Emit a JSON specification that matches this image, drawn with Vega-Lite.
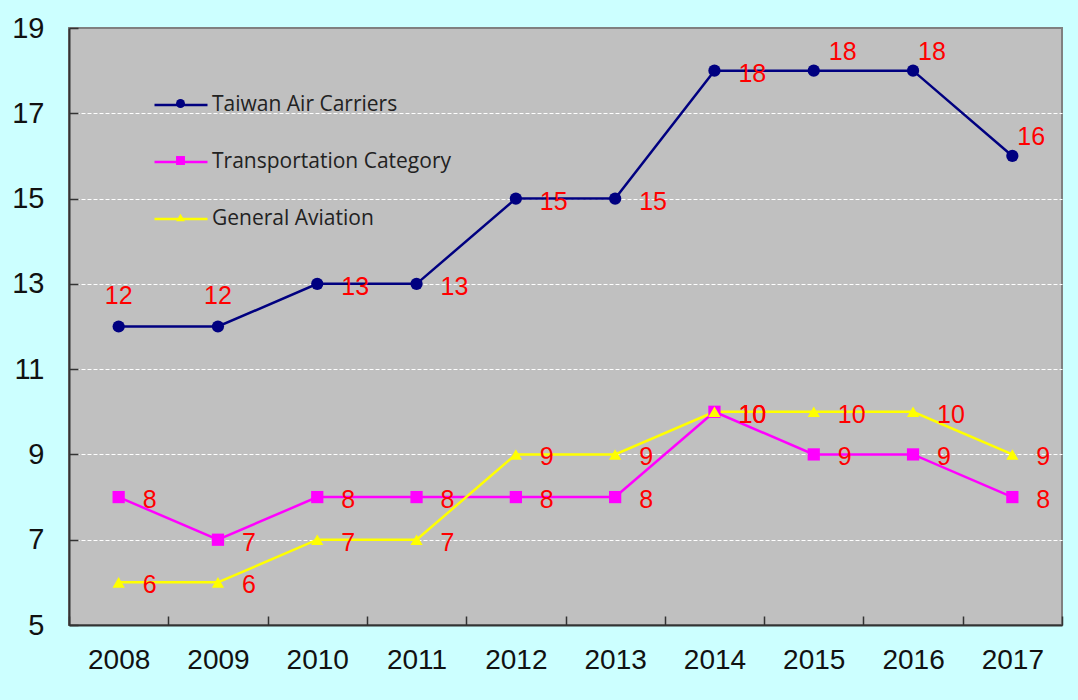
{
  "$schema": "https://vega.github.io/schema/vega-lite/v6.json",
  "autosize": {"type": "none"},
  "padding": {"left": 69, "top": 28, "right": 16, "bottom": 75},
  "width": 993,
  "height": 597,
  "background": "#CCFFFF",
  "config": {
    "view": {"fill": "#C0C0C0", "stroke": "#808080", "strokeWidth": 2},
    "font": "Liberation Sans"
  },
  "resolve": {"legend": {"color": "independent", "shape": "independent"}},
  "data": {
    "values": [
      {"year": "2008", "series": "Taiwan Air Carriers", "value": 12},
      {"year": "2009", "series": "Taiwan Air Carriers", "value": 12},
      {"year": "2010", "series": "Taiwan Air Carriers", "value": 13},
      {"year": "2011", "series": "Taiwan Air Carriers", "value": 13},
      {"year": "2012", "series": "Taiwan Air Carriers", "value": 15},
      {"year": "2013", "series": "Taiwan Air Carriers", "value": 15},
      {"year": "2014", "series": "Taiwan Air Carriers", "value": 18},
      {"year": "2015", "series": "Taiwan Air Carriers", "value": 18},
      {"year": "2016", "series": "Taiwan Air Carriers", "value": 18},
      {"year": "2017", "series": "Taiwan Air Carriers", "value": 16},
      {"year": "2008", "series": "Transportation Category", "value": 8},
      {"year": "2009", "series": "Transportation Category", "value": 7},
      {"year": "2010", "series": "Transportation Category", "value": 8},
      {"year": "2011", "series": "Transportation Category", "value": 8},
      {"year": "2012", "series": "Transportation Category", "value": 8},
      {"year": "2013", "series": "Transportation Category", "value": 8},
      {"year": "2014", "series": "Transportation Category", "value": 10},
      {"year": "2015", "series": "Transportation Category", "value": 9},
      {"year": "2016", "series": "Transportation Category", "value": 9},
      {"year": "2017", "series": "Transportation Category", "value": 8},
      {"year": "2008", "series": "General Aviation", "value": 6},
      {"year": "2009", "series": "General Aviation", "value": 6},
      {"year": "2010", "series": "General Aviation", "value": 7},
      {"year": "2011", "series": "General Aviation", "value": 7},
      {"year": "2012", "series": "General Aviation", "value": 9},
      {"year": "2013", "series": "General Aviation", "value": 9},
      {"year": "2014", "series": "General Aviation", "value": 10},
      {"year": "2015", "series": "General Aviation", "value": 10},
      {"year": "2016", "series": "General Aviation", "value": 10},
      {"year": "2017", "series": "General Aviation", "value": 9}
    ]
  },
  "encoding": {
    "x": {
      "field": "year", "type": "nominal", "bandPosition": 0.5,
      "scale": {"type": "band", "paddingInner": 0, "paddingOuter": 0},
      "axis": {
        "title": null, "labelAngle": 0, "tickBand": "extent",
        "domainColor": "#333333", "domainWidth": 2,
        "tickColor": "#333333", "tickWidth": 1.5, "tickSize": -9,
        "labelFontSize": 28, "labelColor": "#111111", "labelPadding": 30,
        "labelFont": "Liberation Sans"
      }
    },
    "y": {
      "field": "value", "type": "quantitative",
      "scale": {"domain": [5, 19], "nice": false, "zero": false},
      "axis": {
        "title": null, "values": [5, 7, 9, 11, 13, 15, 17, 19],
        "domainColor": "#333333", "domainWidth": 2,
        "tickColor": "#333333", "tickWidth": 1.5, "tickSize": -9,
        "labelFontSize": 29, "labelColor": "#111111", "labelPadding": 34,
        "labelFont": "Liberation Sans",
        "grid": true, "gridColor": "#FFFFFF", "gridDash": [4, 2], "gridWidth": 1,
        "gridOpacity": {"condition": {"test": "datum.value == 5 || datum.value == 19", "value": 0}, "value": 1}
      }
    }
  },
  "layer": [
    {
      "mark": {"type": "line", "strokeWidth": 2.5},
      "encoding": {
        "color": {
          "field": "series", "type": "nominal",
          "scale": {
            "domain": ["Taiwan Air Carriers", "Transportation Category", "General Aviation"],
            "range": ["#000080", "#FF00FF", "#FFFF00"]
          },
          "legend": {
            "title": null, "orient": "none", "legendX": 84, "legendY": 49,
            "padding": 0, "symbolSize": 2809, "symbolStrokeWidth": 2.5,
            "symbolType": "stroke",
            "rowPadding": 19, "labelOffset": 3,
            "labelFont": "Open Sans", "labelFontSize": 21, "labelColor": "#222222",
            "labelLimit": 400
          }
        }
      }
    },
    {
      "mark": {"type": "point", "filled": true, "opacity": 1, "size": 150},
      "encoding": {
        "color": {
          "field": "series", "type": "nominal",
          "legend": {
            "title": null, "orient": "none", "legendX": 101, "legendY": 65,
            "padding": 0, "symbolSize": 80, "symbolStrokeWidth": 0,
            "rowPadding": 35, "labelOffset": 6, "labelExpr": "''",
            "labelFontSize": 21
          }
        },
        "shape": {
          "field": "series", "type": "nominal",
          "scale": {
            "domain": ["Taiwan Air Carriers", "Transportation Category", "General Aviation"],
            "range": ["circle", "square", "triangle-up"]
          },
          "legend": {
            "title": null, "orient": "none", "legendX": 101, "legendY": 65,
            "padding": 0, "symbolSize": 80, "symbolStrokeWidth": 0,
            "rowPadding": 35, "labelOffset": 6, "labelExpr": "''",
            "labelFontSize": 21
          }
        }
      }
    },
    {
      "transform": [{"filter": "!(datum.series === 'Taiwan Air Carriers' && indexof(['2008','2009','2015','2016','2017'], datum.year) >= 0)"}],
      "mark": {"type": "text", "align": "left", "baseline": "middle", "dx": 24, "dy": 3, "fontSize": 25, "color": "#FF0000", "font": "Liberation Sans"},
      "encoding": {"text": {"field": "value", "type": "quantitative"}}
    },
    {
      "transform": [{"filter": "datum.series === 'Taiwan Air Carriers' && indexof(['2008','2009'], datum.year) >= 0"}],
      "mark": {"type": "text", "align": "center", "baseline": "middle", "dx": 0, "dy": -31, "fontSize": 25, "color": "#FF0000", "font": "Liberation Sans"},
      "encoding": {"text": {"field": "value", "type": "quantitative"}}
    },
    {
      "transform": [{"filter": "datum.series === 'Taiwan Air Carriers' && datum.year === '2015'"}],
      "mark": {"type": "text", "align": "left", "baseline": "middle", "dx": 15, "dy": -19, "fontSize": 25, "color": "#FF0000", "font": "Liberation Sans"},
      "encoding": {"text": {"field": "value", "type": "quantitative"}}
    },
    {
      "transform": [{"filter": "datum.series === 'Taiwan Air Carriers' && indexof(['2016','2017'], datum.year) >= 0"}],
      "mark": {"type": "text", "align": "left", "baseline": "middle", "dx": 5, "dy": -19, "fontSize": 25, "color": "#FF0000", "font": "Liberation Sans"},
      "encoding": {"text": {"field": "value", "type": "quantitative"}}
    }
  ]
}
